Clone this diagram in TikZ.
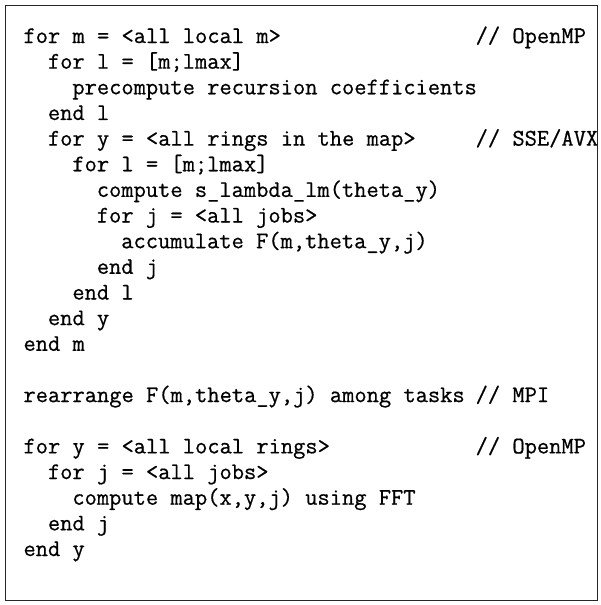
\documentclass[tikz,border=0pt]{standalone}
\usepackage{fontspec}
\setmonofont[FakeBold=0.6]{Latin Modern Mono}
\tikzset{
  code/.style={anchor=base west, inner sep=0pt, outer sep=0pt,
    font=\ttfamily\fontsize{23.8}{25.7}\selectfont, text=black},
  frame/.style={draw=black!85, line width=1.1pt}
}
\newcommand\cw{12.22}
\newcommand\lh{25.65}
\newcommand\xo{23.5}
\newcommand\yo{43}
% name, line, indent, text
\newcommand\codeln[4]{\node[code] (#1) at ({\xo pt+#3*\cw pt},{-\yo pt-#2*\lh pt}) {#4};}
\begin{document}
\begin{tikzpicture}
\useasboundingbox (0,0) rectangle (600pt,-605pt);
\fill[white] (0,0) rectangle (600pt,-605pt);
\codeln{l0}{0}{0}{for m = <all local m>}
\codeln{c0}{0}{37}{// OpenMP}
\codeln{l1}{1}{2}{for l = [m;lmax]}
\codeln{l2}{2}{4}{precompute recursion coefficients}
\codeln{l3}{3}{2}{end l}
\codeln{l4}{4}{2}{for y = <all rings in the map>}
\codeln{c4}{4}{37}{// SSE/AVX}
\codeln{l5}{5}{4}{for l = [m;lmax]}
\codeln{l6}{6}{6}{compute s\_lambda\_lm(theta\_y)}
\codeln{l7}{7}{6}{for j = <all jobs>}
\codeln{l8}{8}{8}{accumulate F(m,theta\_y,j)}
\codeln{l9}{9}{6}{end j}
\codeln{l10}{10}{4}{end l}
\codeln{l11}{11}{2}{end y}
\codeln{l12}{12}{0}{end m}
\codeln{l14}{14}{0}{rearrange F(m,theta\_y,j) among tasks}
\codeln{c14}{14}{37}{// MPI}
\codeln{l16}{16}{0}{for y = <all local rings>}
\codeln{c16}{16}{37}{// OpenMP}
\codeln{l17}{17}{2}{for j = <all jobs>}
\codeln{l18}{18}{4}{compute map(x,y,j) using FFT}
\codeln{l19}{19}{2}{end j}
\codeln{l20}{20}{0}{end y}
\node[frame, fill=none, inner sep=0pt, anchor=north west, minimum width=592pt, minimum height=595pt] (box) at (5pt,-5pt) {};
\end{tikzpicture}
\end{document}
